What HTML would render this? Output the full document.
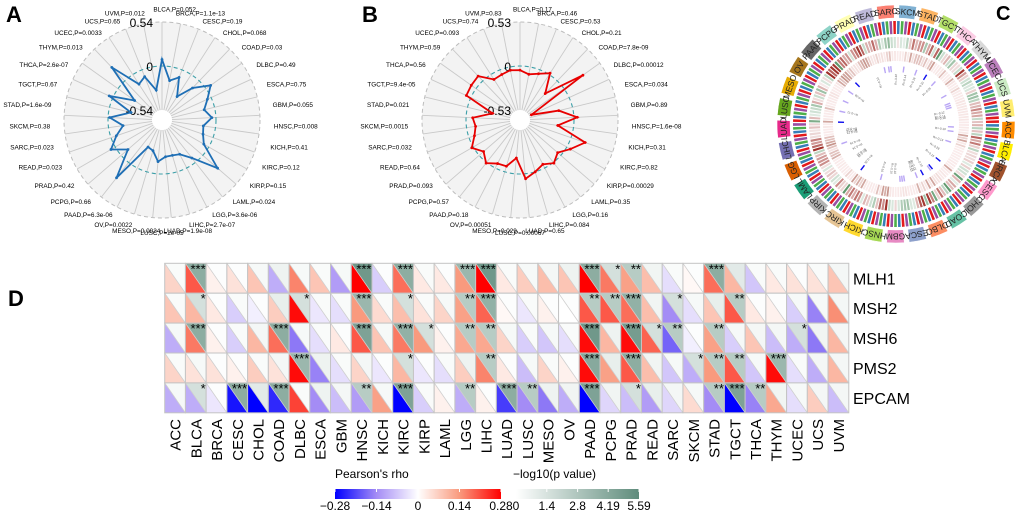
<!DOCTYPE html>
<html><head><meta charset="utf-8">
<style>
html,body{margin:0;padding:0;background:#fff;}
svg{display:block;font-family:"Liberation Sans",Arial,sans-serif;}
</style></head>
<body>
<svg id="fig" width="1020" height="515" viewBox="0 0 1020 515" xmlns="http://www.w3.org/2000/svg">
<defs>
<linearGradient id="gRho" x1="0" x2="1" y1="0" y2="0">
<stop offset="0" stop-color="#0000ff"/><stop offset="0.25" stop-color="#a48cf5"/><stop offset="0.5" stop-color="#ffffff"/><stop offset="0.75" stop-color="#f99a7e"/><stop offset="1" stop-color="#ff0000"/>
</linearGradient>
<linearGradient id="gP" x1="0" x2="1" y1="0" y2="0">
<stop offset="0" stop-color="#ffffff"/><stop offset="1" stop-color="#5f8c7c"/>
</linearGradient>
</defs>
<text x="6" y="22" font-size="22" font-weight="bold">A</text>
<text x="362" y="22" font-size="22" font-weight="bold">B</text>
<text x="996" y="20" font-size="20" font-weight="bold">C</text>
<text x="8" y="306" font-size="22" font-weight="bold">D</text>
<g id="radarA"></g>
<g id="radarB"></g>
<g id="circos"></g>
<g id="heat"></g>
<g id="legend">
<text x="335" y="478" font-size="12">Pearson's rho</text>
<rect x="335" y="489" width="166" height="10" fill="url(#gRho)"/>
<text x="513" y="478" font-size="12">−log10(p value)</text>
<rect x="516" y="489" width="123" height="10" fill="url(#gP)"/>
</g>
</svg>
<script>
// ---------- data ----------
const cancers = ["ACC","BLCA","BRCA","CESC","CHOL","COAD","DLBC","ESCA","GBM","HNSC","KICH","KIRC","KIRP","LAML","LGG","LIHC","LUAD","LUSC","MESO","OV","PAAD","PCPG","PRAD","READ","SARC","SKCM","STAD","TGCT","THCA","THYM","UCEC","UCS","UVM"];
const genes = ["MLH1","MSH2","MSH6","PMS2","EPCAM"];
const radarAValues = [0.08,-0.17,-0.10,-0.32,-0.12,0.07,-0.05,-0.13,-0.05,-0.15,-0.13,-0.07,0.24,-0.07,-0.19,-0.21,-0.21,-0.15,-0.27,-0.29,0.24,-0.11,0.06,-0.07,-0.18,-0.02,-0.27,0.05,-0.25,0.23,-0.14,-0.09,-0.29];
const radarAPvals = ["","0.052","1.1e-13","0.19","0.068","0.03","0.49","0.75","0.055","0.008","0.41","0.12","0.15","0.024","3.6e-06","2.7e-07","1.9e-08","2e-05","0.0024","0.0022","6.3e-06","0.66","0.42","0.023","0.023","0.38","1.6e-09","0.67","2.6e-07","0.013","0.0033","0.65","0.012"];
const radarATicks = ["0.54","0","-0.54"];
const radarBValues = [-0.05,-0.09,-0.05,0.02,-0.21,0.28,-0.50,-0.17,0.04,-0.19,0.18,0.05,-0.05,0.01,-0.05,0.0,0.06,-0.19,-0.07,-0.06,0.01,-0.07,0.02,-0.07,-0.11,-0.08,-0.31,0.06,0.07,0.08,-0.07,-0.06,-0.04];
const radarBPvals = ["","0.17","0.46","0.53","0.21","7.8e-09","0.00012","0.034","0.89","1.6e-08","0.31","0.82","0.00029","0.35","0.16","0.084","0.65","0.00067","0.029","0.00051","0.18","0.57","0.093","0.64","0.032","0.0015","0.021","9.4e-05","0.56","0.59","0.093","0.74","0.83"];
const radarBTicks = ["0.53","0","-0.53"];
// heatmap rho per gene row (33 cancers each)
const rhoMLH1 = [0.06,0.20,0.02,0.04,0.08,-0.10,0.16,0.08,-0.12,0.28,-0.06,0.18,0.03,0.03,0.14,0.28,0.03,0.07,0.09,0.08,0.28,0.17,0.13,0.09,-0.04,0.01,0.18,0.10,-0.07,0.03,0.04,0.04,0.08];
const rhoMSH2 = [0.08,0.10,0.03,-0.06,-0.02,0.07,0.27,-0.03,-0.04,0.14,0.05,0.09,0.04,0.06,0.13,0.19,0.01,-0.03,0.02,0.0,0.20,0.20,0.18,0.09,-0.14,-0.04,0.08,0.20,0.03,0.02,-0.06,-0.15,0.15];
const rhoMSH6 = [-0.10,0.17,0.02,-0.06,0.10,0.18,-0.16,-0.04,0.03,0.20,0.08,0.17,0.14,0.02,0.12,0.12,0.06,-0.06,-0.07,-0.04,0.27,0.10,0.27,0.19,-0.18,-0.02,0.13,-0.06,0.08,-0.08,-0.10,-0.16,0.10];
const rhoPMS2 = [0.06,0.04,0.04,0.02,0.07,0.04,0.27,-0.15,-0.04,0.06,-0.03,0.10,-0.03,-0.04,0.07,0.16,0.03,-0.08,0.06,0.02,0.27,0.13,0.20,0.09,-0.07,-0.10,0.14,0.20,-0.07,0.27,-0.04,-0.10,0.10];
const rhoEPCAM = [-0.10,-0.10,-0.03,-0.26,-0.28,-0.24,0.22,-0.14,-0.08,-0.12,0.13,-0.28,-0.06,0.02,-0.10,0.02,-0.22,-0.14,-0.16,-0.10,-0.28,-0.05,-0.08,-0.12,-0.05,0.05,-0.14,-0.28,-0.15,0.12,-0.04,0.07,-0.08];
// heatmap -log10(p)
const lpMLH1 = [0.2,4.0,0.1,0.1,0.3,0.6,0.3,0.2,0.3,5.0,0.1,4.0,0.2,0.1,3.5,5.0,0.2,0.3,0.4,0.6,4.0,1.5,2.5,0.5,0.2,0.1,4.0,1.0,0.2,0.2,0.1,0.2,0.4];
const lpMSH2 = [0.2,1.5,0.1,0.2,0.1,0.8,1.5,0.2,0.2,3.5,0.2,1.5,0.2,0.3,2.5,3.8,0.1,0.2,0.1,0.1,2.5,2.5,3.8,0.5,1.5,0.3,0.8,2.5,0.1,0.1,0.3,0.3,0.4];
const lpMSH6 = [0.3,4.0,0.1,0.2,0.4,4.0,0.3,0.2,0.1,4.5,0.3,3.8,1.5,0.1,2.5,2.5,0.3,0.2,0.3,0.2,5.0,0.6,4.8,1.5,2.5,0.1,2.5,0.3,0.4,0.4,1.5,0.5,0.4];
const lpPMS2 = [0.2,0.3,0.1,0.1,0.2,0.4,3.5,0.6,0.2,0.4,0.1,1.5,0.1,0.2,0.6,2.5,0.1,0.3,0.2,0.1,4.2,0.8,4.0,0.5,0.3,1.5,2.5,2.5,0.3,3.5,0.2,0.4,0.4];
const lpEPCAM = [0.3,1.5,0.1,4.0,1.0,4.0,0.2,0.6,0.4,2.5,0.3,4.5,0.2,0.1,2.5,0.1,4.0,2.5,0.6,0.5,4.5,0.5,1.5,0.8,0.4,0.3,2.5,4.5,2.5,0.5,0.3,0.4,0.4];
const rhoTicks = ["−0.28","−0.14","0","0.14","0.28"];
const rhoTickVals = [-0.28,-0.14,0,0.14,0.28];
const pTicks = ["0","1.4","2.8","4.19","5.59"];
const pTickVals = [0,1.4,2.8,4.19,5.59];
const circosColors = ["#ff8c00","#ffee00","#a0522d","#ff99cc","#999999","#66c2a5","#fc8d62","#8da0cb","#e78ac3","#a6d854","#ffd92f","#e5c494","#b3b3b3","#1b9e77","#d95f02","#7570b3","#e7298a","#66a61e","#e6ab02","#a6761d","#666666","#8dd3c7","#ffffb3","#bebada","#fb8072","#80b1d3","#fdb462","#b3de69","#fccde5","#d9d9d9","#bc80bd","#ccebc5","#ffed6f"];

const NS="http://www.w3.org/2000/svg";
function mk(tag,attrs,parent){const e=document.createElementNS(NS,tag);for(const k in attrs)e.setAttribute(k,attrs[k]);if(parent)parent.appendChild(e);return e;}
function hex(c){return [parseInt(c.slice(1,3),16),parseInt(c.slice(3,5),16),parseInt(c.slice(5,7),16)];}
function mix(a,b,t){const A=hex(a),B=hex(b);return "rgb("+A.map((v,i)=>Math.round(v+(B[i]-v)*t)).join(",")+")";}
function rhoColor(v){const t=Math.max(-1,Math.min(1,v/0.28));
 if(t>=0){return t<0.5?mix("#ffffff","#f99a7e",t*2):mix("#f99a7e","#ff0000",(t-0.5)*2);}
 const u=-t;return u<0.5?mix("#ffffff","#a48cf5",u*2):mix("#a48cf5","#0000ff",(u-0.5)*2);}
function pColor(v){return mix("#ffffff","#5f8c7c",Math.min(1,v/5.59));}

// ---------- radar ----------
function radar(gid,cx,cy,vals,pv,ticks,maxv,color){
 const g=document.getElementById(gid);const N=cancers.length;const R=98,r0=10;
 const rad=v=>r0+(v+maxv)/(2*maxv)*(R-r0);
 const bg=mk("circle",{cx:cx,cy:cy,r:R,fill:"#f3f3f3",stroke:"#bdbdbd","stroke-dasharray":"4,3","stroke-width":1},g);
 
 
 for(let i=0;i<N;i++){const a=i*2*Math.PI/N;
  const sp=mk("line",{x1:cx+r0*Math.sin(a),y1:cy-r0*Math.cos(a),x2:cx+R*Math.sin(a),y2:cy-R*Math.cos(a),stroke:"#c9c9c9","stroke-width":0.9},g);
  
  }
 const hole=mk("circle",{cx:cx,cy:cy,r:r0,fill:"#ffffff"},g);
 
 
 const zc=mk("circle",{cx:cx,cy:cy,r:rad(0),fill:"none",stroke:"#3d9fa8","stroke-width":1.1,"stroke-dasharray":"4,3"},g);
 
 
 const tv=[maxv,0,-maxv];
 tv.forEach((v,k)=>{const t=mk("text",{x:cx-9,y:cy-rad(v)+5,"font-size":12,"text-anchor":"end"},g);t.textContent=ticks[k];
  
  });
 const pts=vals.map((v,i)=>{const a=i*2*Math.PI/N;return [cx+rad(v)*Math.sin(a),cy-rad(v)*Math.cos(a)];});
 const pl=mk("polygon",{points:pts.map(p=>p.join(",")).join(" "),fill:"none",stroke:color,"stroke-width":1.8,"stroke-linejoin":"miter"},g);
 
 
 pts.forEach(p=>{const c=mk("circle",{cx:p[0],cy:p[1],r:1.4,fill:color},g);
  
  });
 for(let i=1;i<N;i++){const a=(i*360/N-360/N/2)*Math.PI/180;const L=112;
  const ax=cx+L*Math.sin(a),ay=cy-L*Math.cos(a)+3;
  const t=mk("text",{x:ax,y:ay,"font-size":6.4},g);t.textContent=cancers[i]+",P="+pv[i];
  
  
  const w=t.getComputedTextLength();const h=(1-Math.sin(a))/2;t.setAttribute("x",ax-h*w);}
}
radar("radarA",162,120,radarAValues,radarAPvals,radarATicks,0.54,"#1f6fb5");
radar("radarB",520,120,radarBValues,radarBPvals,radarBTicks,0.53,"#e80000");

// ---------- heatmap ----------
(function(){
 const g=document.getElementById("heat");
 const rows=[rhoMLH1,rhoMSH2,rhoMSH6,rhoPMS2,rhoEPCAM];
 const lps=[lpMLH1,lpMSH2,lpMSH6,lpPMS2,lpEPCAM];
 const x0=164.7,cw=20.73,y0=263.3,rh=29.9;
 const xs=i=>x0+i*cw, ys=j=>y0+j*rh;
 rows.forEach((row,j)=>{row.forEach((v,i)=>{
  const x=xs(i),y=ys(j);
  const lo=mk("polygon",{points:`${x},${y} ${x},${y+rh} ${x+cw},${y+rh}`,fill:rhoColor(v)},g);
  
  
  const up=mk("polygon",{points:`${x},${y} ${x+cw},${y} ${x+cw},${y+rh}`,fill:pColor(lps[j][i])},g);
  
  
  const d=mk("line",{x1:x,y1:y,x2:x+cw,y2:y+rh,stroke:"#cfcfcf","stroke-width":0.8},g);
  
  
  const c=mk("rect",{x:x,y:y,width:cw,height:rh,fill:"none",stroke:"#c4c4c4","stroke-width":1},g);
  
  
  const lp=lps[j][i];const st=lp>3?"***":lp>2?"**":lp>1.3?"*":"";
  if(st){const t=mk("text",{x:x+cw-0.5,y:y+10,"font-size":13,"text-anchor":"end"},g);t.textContent=st;
   
   }
 });
 const gl=mk("text",{x:853,y:ys(j)+rh/2+6,"font-size":16},g);gl.textContent=genes[j];
 
 });
 cancers.forEach((c,i)=>{const cx=xs(i)+cw/2+5.5,cy=419;
  const t=mk("text",{x:cx,y:cy,"font-size":15,"text-anchor":"end",transform:`rotate(-90 ${cx} ${cy})`},g);t.textContent=c;
  
  });
 // legend ticks
 const lg=document.getElementById("legend");
 const rx=v=>335+(v+0.28)/0.56*166, px=v=>516+v/5.59*123;
 rhoTickVals.forEach((v,k)=>{const m=mk("line",{x1:rx(v),x2:rx(v),y1:489,y2:492,stroke:"#fff"},lg);
  
  
  const t=mk("text",{x:rx(v),y:510,"font-size":12,"text-anchor":"middle"},lg);t.textContent=rhoTicks[k];
  
  });
 pTickVals.forEach((v,k)=>{const m=mk("line",{x1:px(v),x2:px(v),y1:489,y2:492,stroke:"#fff"},lg);
  
  
  const t=mk("text",{x:px(v),y:510,"font-size":12,"text-anchor":"middle"},lg);t.textContent=pTicks[k];
  
  });
})();

// ---------- circos ----------
(function(){
 const g=document.getElementById("circos");const cx=896,cy=124;const N=cancers.length;const step=360/N;
 const rows=[rhoMLH1,rhoMSH2,rhoMSH6,rhoPMS2,rhoEPCAM];
 const lps=[lpMLH1,lpMSH2,lpMSH6,lpPMS2,lpEPCAM];
 const P=(r,d)=>[cx+r*Math.sin(d*Math.PI/180),cy-r*Math.cos(d*Math.PI/180)];
 function arc(r0,r1,a0,a1){const p1=P(r1,a0),p2=P(r1,a1),p3=P(r0,a1),p4=P(r0,a0);
  return `M${p1}L${p1}A${r1},${r1} 0 0 1 ${p2}L${p3}A${r0},${r0} 0 0 0 ${p4}Z`;}
 const barCols=["#e41a1c","#377eb8","#4daf4a","#984ea3"];
 cancers.forEach((c,i)=>{
  const a=93+i*step;
  const box=mk("path",{d:arc(106,119,a-step/2+1.2,a+step/2-1.2),fill:circosColors[i],stroke:"#fff","stroke-width":0.5},g);
  
  
  const t=mk("text",{x:cx,y:cy-109.5,"font-size":8.5,"text-anchor":"middle",transform:`rotate(${a} ${cx} ${cy})`,fill:"#222"},g);t.textContent=c;
  
  
  for(let k=0;k<5;k++){const w=step/5;const b0=a-step/2+k*w+0.35,b1=b0+w-0.7;
   const cb=mk("path",{d:arc(90,103,b0,b1),fill:barCols[(i*5+k)%4]},g);
   
   
   const v=rows[k][i];
   const r2=mk("path",{d:arc(76,87,b0,b1),fill:v>=0?mix("#ffffff","#a0302a",Math.min(1,v/0.28*0.9+0.1)):mix("#ffffff","#4f8f5f",Math.min(1,-v/0.28*0.8+0.1))},g);
   
   
   const r3=mk("path",{d:arc(63,73,b0,b1),fill:mix("#fbeeee","#c08a80",Math.min(1,lps[k][i]/5.59))},g);
   
   
   if(v<-0.09){const m=mk("path",{d:arc(52,58,b0,b1),fill:v<-0.2?"#1010ee":"#b9a6f5"},g);
    
    
    const lt=mk("text",{x:cx,y:cy-50,"font-size":3,"text-anchor":"end",transform:`rotate(${b0+90} ${cx} ${cy}) rotate(-90 ${cx} ${cy-50})`,fill:"#555"},g);
    lt.textContent="R="+v.toFixed(2);
    
    }
  }
 });
})();
</script>
</body></html>
